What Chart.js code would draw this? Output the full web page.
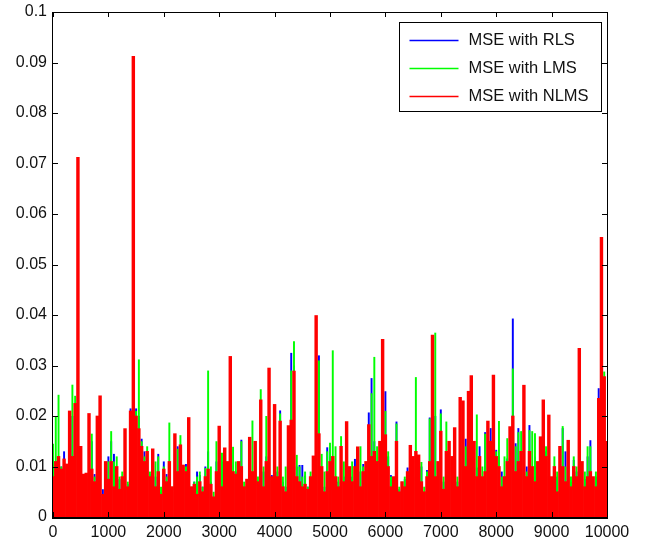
<!DOCTYPE html>
<html>
<head>
<meta charset="utf-8">
<script src="https://cdn.jsdelivr.net/npm/chart.js@4.4.0/dist/chart.umd.min.js"></script>
<style>
  html, body { margin: 0; padding: 0; background: #fff; }
  #wrap { width: 645px; height: 546px; position: relative; }
</style>
</head>
<body>
<div id="wrap"><canvas id="mse-chart"></canvas></div>
<script>
// 每隔 50 个样本读一个值（从图上估出来的）
const STEP = 50;

const seriesNames = ['MSE with RLS', 'MSE with LMS', 'MSE with NLMS'];
const seriesColors = ['#0000ff', '#00ff00', '#ff0000'];

const xTicks = [0, 1000, 2000, 3000, 4000, 5000, 6000, 7000, 8000, 9000, 10000];
const yTicks = [0, 0.01, 0.02, 0.03, 0.04, 0.05, 0.06, 0.07, 0.08, 0.09, 0.1];

const mseRLS = [
  0.0120, 0.0110, 0.0115, 0.0100, 0.0130, 0.0100, 0.0115, 0.0200, 0.0130, 0.0140,
  0.0110, 0.0070, 0.0080, 0.0145, 0.0150, 0.0085, 0.0140, 0.0120, 0.0055, 0.0080,
  0.0120, 0.0150, 0.0125, 0.0090, 0.0075, 0.0065, 0.0150, 0.0065, 0.0215, 0.0190,
  0.0215, 0.0200, 0.0155, 0.0130, 0.0100, 0.0085, 0.0120, 0.0080, 0.0125, 0.0050,
  0.0110, 0.0085, 0.0110, 0.0050, 0.0125, 0.0140, 0.0130, 0.0085, 0.0105, 0.0150,
  0.0055, 0.0070, 0.0090, 0.0083, 0.0060, 0.0100, 0.0130, 0.0070, 0.0035, 0.0110,
  0.0090, 0.0110, 0.0125, 0.0080, 0.0120, 0.0090, 0.0090, 0.0075, 0.0153, 0.0060,
  0.0065, 0.0100, 0.0083, 0.0110, 0.0065, 0.0120, 0.0090, 0.0120, 0.0100, 0.0083,
  0.0117, 0.0090, 0.0211, 0.0070, 0.0060, 0.0103, 0.0325, 0.0300, 0.0100, 0.0103,
  0.0103, 0.0082, 0.0060, 0.0070, 0.0100, 0.0300, 0.0320, 0.0090, 0.0060, 0.0138,
  0.0120, 0.0110, 0.0060, 0.0070, 0.0100, 0.0080, 0.0100, 0.0090, 0.0080, 0.0115,
  0.0083, 0.0090, 0.0105, 0.0060, 0.0207, 0.0275, 0.0150, 0.0060, 0.0120, 0.0180,
  0.0249, 0.0120, 0.0083, 0.0060, 0.0189, 0.0055, 0.0065, 0.0075, 0.0098, 0.0110,
  0.0100, 0.0080, 0.0070, 0.0100, 0.0045, 0.0093, 0.0197, 0.0300, 0.0200, 0.0090,
  0.0213, 0.0070, 0.0120, 0.0100, 0.0080, 0.0120, 0.0070, 0.0109, 0.0120, 0.0155,
  0.0160, 0.0150, 0.0110, 0.0098, 0.0140, 0.0050, 0.0168, 0.0180, 0.0176, 0.0140,
  0.0133, 0.0120, 0.0090, 0.0080, 0.0116, 0.0130, 0.0393, 0.0146, 0.0176, 0.0120,
  0.0110, 0.0100, 0.0182, 0.0080, 0.0120, 0.0100, 0.0110, 0.0100, 0.0130, 0.0080,
  0.0070, 0.0060, 0.0080, 0.0100, 0.0176, 0.0130, 0.0080, 0.0070, 0.0113, 0.0090,
  0.0100, 0.0070, 0.0075, 0.0120, 0.0152, 0.0070, 0.0080, 0.0255, 0.0200, 0.0200,
  0.0130
];

const mseLMS = [
  0.0145, 0.0200, 0.0242, 0.0100, 0.0110, 0.0105, 0.0120, 0.0262, 0.0240, 0.0120,
  0.0130, 0.0080, 0.0075, 0.0140, 0.0165, 0.0080, 0.0120, 0.0150, 0.0040, 0.0070,
  0.0110, 0.0170, 0.0110, 0.0120, 0.0080, 0.0090, 0.0140, 0.0070, 0.0200, 0.0210,
  0.0210, 0.0312, 0.0150, 0.0120, 0.0140, 0.0090, 0.0100, 0.0110, 0.0120, 0.0060,
  0.0100, 0.0080, 0.0187, 0.0060, 0.0160, 0.0135, 0.0162, 0.0090, 0.0100, 0.0183,
  0.0060, 0.0070, 0.0080, 0.0090, 0.0060, 0.0097, 0.0290, 0.0100, 0.0050, 0.0150,
  0.0100, 0.0127, 0.0100, 0.0090, 0.0140, 0.0139, 0.0110, 0.0080, 0.0150, 0.0070,
  0.0060, 0.0120, 0.0191, 0.0100, 0.0080, 0.0253, 0.0100, 0.0200, 0.0150, 0.0070,
  0.0180, 0.0100, 0.0205, 0.0080, 0.0100, 0.0150, 0.0290, 0.0348, 0.0123, 0.0100,
  0.0080, 0.0090, 0.0060, 0.0090, 0.0090, 0.0310, 0.0310, 0.0125, 0.0090, 0.0130,
  0.0147, 0.0330, 0.0140, 0.0080, 0.0160, 0.0110, 0.0090, 0.0080, 0.0110, 0.0095,
  0.0120, 0.0140, 0.0100, 0.0080, 0.0150, 0.0245, 0.0317, 0.0140, 0.0120, 0.0200,
  0.0210, 0.0130, 0.0080, 0.0070, 0.0185, 0.0060, 0.0070, 0.0080, 0.0090, 0.0100,
  0.0110, 0.0277, 0.0100, 0.0109, 0.0060, 0.0090, 0.0195, 0.0330, 0.0365, 0.0090,
  0.0205, 0.0080, 0.0189, 0.0140, 0.0090, 0.0143, 0.0080, 0.0100, 0.0150, 0.0140,
  0.0150, 0.0257, 0.0120, 0.0203, 0.0090, 0.0100, 0.0165, 0.0170, 0.0130, 0.0150,
  0.0130, 0.0190, 0.0080, 0.0120, 0.0156, 0.0120, 0.0294, 0.0140, 0.0168, 0.0170,
  0.0120, 0.0090, 0.0172, 0.0170, 0.0166, 0.0090, 0.0120, 0.0130, 0.0140, 0.0110,
  0.0060, 0.0120, 0.0090, 0.0110, 0.0180, 0.0100, 0.0100, 0.0080, 0.0120, 0.0100,
  0.0110, 0.0080, 0.0090, 0.0140, 0.0140, 0.0060, 0.0090, 0.0160, 0.0250, 0.0288,
  0.0120
];

const mseNLMS = [
  0.0080, 0.0110, 0.0120, 0.0095, 0.0115, 0.0105, 0.0210, 0.0120, 0.0225, 0.0712,
  0.0140, 0.0085, 0.0087, 0.0205, 0.0095, 0.0070, 0.0200, 0.0240, 0.0045, 0.0110,
  0.0075, 0.0110, 0.0060, 0.0100, 0.0055, 0.0080, 0.0175, 0.0060, 0.0210, 0.0912,
  0.0200, 0.0175, 0.0140, 0.0110, 0.0130, 0.0080, 0.0135, 0.0060, 0.0090, 0.0045,
  0.0095, 0.0070, 0.0110, 0.0060, 0.0165, 0.0090, 0.0143, 0.0103, 0.0090, 0.0197,
  0.0060, 0.0065, 0.0045, 0.0070, 0.0050, 0.0080, 0.0095, 0.0065, 0.0040, 0.0090,
  0.0180, 0.0060, 0.0137, 0.0110, 0.0318, 0.0090, 0.0085, 0.0110, 0.0100, 0.0060,
  0.0075, 0.0158, 0.0090, 0.0150, 0.0070, 0.0232, 0.0060, 0.0110, 0.0295, 0.0080,
  0.0223, 0.0080, 0.0190, 0.0060, 0.0050, 0.0181, 0.0192, 0.0289, 0.0080, 0.0070,
  0.0060, 0.0065, 0.0055, 0.0080, 0.0121, 0.0399, 0.0165, 0.0100, 0.0050, 0.0090,
  0.0110, 0.0120, 0.0080, 0.0060, 0.0140, 0.0070, 0.0189, 0.0100, 0.0070, 0.0100,
  0.0139, 0.0060, 0.0090, 0.0110, 0.0183, 0.0120, 0.0130, 0.0110, 0.0150, 0.0352,
  0.0163, 0.0100, 0.0060, 0.0080, 0.0150, 0.0050, 0.0070, 0.0060, 0.0090, 0.0142,
  0.0120, 0.0130, 0.0123, 0.0070, 0.0050, 0.0080, 0.0110, 0.0360, 0.0080, 0.0110,
  0.0170, 0.0055, 0.0130, 0.0150, 0.0120, 0.0177, 0.0060, 0.0237, 0.0230, 0.0100,
  0.0249, 0.0280, 0.0150, 0.0080, 0.0120, 0.0080, 0.0090, 0.0190, 0.0150, 0.0281,
  0.0120, 0.0100, 0.0060, 0.0080, 0.0110, 0.0179, 0.0200, 0.0090, 0.0110, 0.0130,
  0.0261, 0.0080, 0.0130, 0.0100, 0.0070, 0.0110, 0.0159, 0.0232, 0.0120, 0.0202,
  0.0080, 0.0100, 0.0050, 0.0140, 0.0100, 0.0070, 0.0152, 0.0060, 0.0100, 0.0080,
  0.0334, 0.0110, 0.0060, 0.0080, 0.0090, 0.0080, 0.0060, 0.0235, 0.0554, 0.0278,
  0.0150
];

// 样本序号（横轴）
const sampleIndex = mseNLMS.map((_, i) => i * STEP);

const TEXT_COLOR = '#111';
const FONT_FAMILY = '"Liberation Sans", Arial, sans-serif';

function toPoints(values) {
    return values.map((v, i) => ({ x: sampleIndex[i], y: v }));
}

function makeDataset(i, values, width) {
    return {
        label: seriesNames[i],
        data: toPoints(values),
        backgroundColor: seriesColors[i],
        borderWidth: 0,
        grouped: false,
        barPercentage: width,
        categoryPercentage: 1,
        order: 3 - i   // NLMS 画在最上面
    };
}

// 坐标框、向内的刻度线、图例（MATLAB 风格）
const matlabFrame = {
    id: 'matlabFrame',
    afterDraw(chart) {
        const { ctx, chartArea: a, scales } = chart;
        ctx.save();
        ctx.strokeStyle = '#000';
        ctx.lineWidth = 1;
        ctx.strokeRect(Math.round(a.left) - 0.5, Math.round(a.top) + 0.5,
            Math.round(a.right - a.left) + 1, Math.round(a.bottom - a.top));
        ctx.lineWidth = 2;
        ctx.beginPath();
        ctx.moveTo(a.left - 1, Math.round(a.bottom) + 1);
        ctx.lineTo(a.right + 1, Math.round(a.bottom) + 1);
        ctx.stroke();

        ctx.lineWidth = 1;
        ctx.beginPath();
        const tl = 5;
        xTicks.forEach(v => {
            const px = Math.round(scales.x.getPixelForValue(v)) + 0.5;
            ctx.moveTo(px, a.bottom); ctx.lineTo(px, a.bottom - tl);
            ctx.moveTo(px, a.top); ctx.lineTo(px, a.top + tl);
        });
        yTicks.forEach(v => {
            const py = Math.round(scales.y.getPixelForValue(v)) + 0.5;
            ctx.moveTo(a.left, py); ctx.lineTo(a.left + tl, py);
            ctx.moveTo(a.right, py); ctx.lineTo(a.right - tl, py);
        });
        ctx.stroke();

        // 图例
        const boxW = 202, boxH = 89;
        const bx = Math.round(a.right) - 6 - boxW + 0.5;
        const by = Math.round(a.top) + 10 + 0.5;
        ctx.fillStyle = '#fff';
        ctx.fillRect(bx, by, boxW, boxH);
        ctx.strokeStyle = '#000';
        ctx.strokeRect(bx, by, boxW, boxH);
        ctx.font = '16.5px ' + FONT_FAMILY;
        ctx.textBaseline = 'middle';
        ctx.textAlign = 'left';
        seriesNames.forEach((name, i) => {
            const y = by + 17 + i * 28;
            ctx.strokeStyle = seriesColors[i];
            ctx.lineWidth = 1.5;
            ctx.beginPath();
            ctx.moveTo(bx + 10, Math.round(y) + 0.5);
            ctx.lineTo(bx + 59, Math.round(y) + 0.5);
            ctx.stroke();
            ctx.fillStyle = TEXT_COLOR;
            ctx.fillText(name, bx + 69, y + 1);
        });
        ctx.restore();
    }
};

new Chart(document.getElementById('mse-chart'), {
    type: 'bar',
    data: {
        datasets: [
            makeDataset(0, mseRLS, 0.7),
            makeDataset(1, mseLMS, 0.7),
            makeDataset(2, mseNLMS, 1)
        ]
    },
    options: {
        animation: false,
        responsive: true,
        maintainAspectRatio: false,
        layout: { padding: { top: 12, right: 38, left: 0, bottom: 0 } },
        plugins: {
            legend: { display: false },
            tooltip: { enabled: false }
        },
        scales: {
            x: {
                type: 'linear',
                min: 0,
                max: 10000,
                offset: false,
                grid: { display: false, drawTicks: false },
                border: { display: false },
                afterBuildTicks: s => { s.ticks = xTicks.map(v => ({ value: v })); },
                afterFit: s => { s.height = 29; },
                ticks: {
                    color: TEXT_COLOR,
                    font: { family: FONT_FAMILY, size: 16 },
                    padding: 6,
                    maxRotation: 0,
                    autoSkip: false,
                    callback: v => String(v)
                }
            },
            y: {
                min: 0,
                max: 0.1,
                grid: { display: false, drawTicks: false },
                border: { display: false },
                afterBuildTicks: s => { s.ticks = yTicks.map(v => ({ value: v })); },
                afterFit: s => {
                    s.width = 53;
                    s.paddingTop = 0;
                    s.paddingBottom = 0;
                },
                ticks: {
                    color: TEXT_COLOR,
                    font: { family: FONT_FAMILY, size: 16 },
                    padding: 6,
                    callback: v => String(+v.toFixed(2))
                }
            }
        }
    },
    plugins: [matlabFrame]
});
</script>
</body>
</html>
